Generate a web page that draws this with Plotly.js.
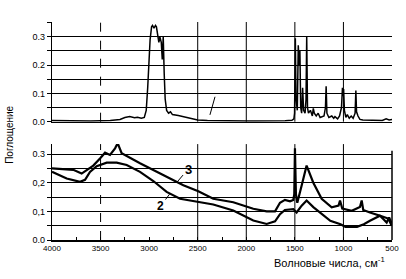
<!DOCTYPE html>
<html>
<head>
<meta charset="utf-8">
<script src="https://cdn.plot.ly/plotly-3.0.1.min.js"></script>
<style>html,body{margin:0;padding:0;background:#fff;}#chart{width:406px;height:279px;}</style>
</head>
<body>
<div id="chart"></div>
<script>
// ---- Data ----
// Top spectrum
var topWn = [4000,3900,3800,3700,3600,3500,3400,3300,3250,3200,3150,3120,3080,3050,3030,3015,3000,2990,2975,2965,2950,2935,2925,2910,2900,2890,2875,2865,2855,2845,2835,2820,2800,2780,2760,2700,2650,2600,2550,2500,2400,2300,2200,2100,2000,1900,1800,1700,1600,1530,1510,1503,1495,1488,1475,1465,1455,1448,1440,1430,1420,1410,1395,1385,1378,1370,1360,1340,1320,1310,1300,1280,1260,1240,1220,1200,1185,1178,1170,1150,1120,1100,1087,1060,1040,1020,1010,1005,998,990,975,960,940,920,900,880,872,865,850,830,800,750,700,650,600,560,530,500];
var topAbs = [0.004,0.003,0.002,0.002,0.002,0.003,0.004,0.008,0.015,0.018,0.014,0.016,0.012,0.015,0.04,0.12,0.22,0.29,0.335,0.34,0.33,0.34,0.335,0.3,0.28,0.3,0.28,0.22,0.3,0.17,0.08,0.04,0.03,0.035,0.025,0.022,0.018,0.014,0.01,0.006,0.004,0.003,0.003,0.002,0.002,0.002,0.002,0.003,0.003,0.005,0.01,0.03,0.295,0.08,0.04,0.27,0.2,0.25,0.05,0.03,0.12,0.04,0.03,0.08,0.3,0.05,0.03,0.04,0.02,0.047,0.03,0.02,0.03,0.015,0.018,0.02,0.05,0.125,0.03,0.015,0.02,0.012,0.018,0.01,0.02,0.05,0.12,0.09,0.115,0.04,0.015,0.025,0.012,0.02,0.012,0.03,0.11,0.035,0.02,0.008,0.006,0.005,0.004,0.003,0.004,0.01,0.006,0.008];

// Bottom spectrum, curve 3
var curve3Wn = [4000,3781,3695,3575,3506,3454,3403,3351,3324,3283,3094,2922,2751,2648,2494,2408,2340,2134,2013,1928,1790,1704,1653,1602,1550,1516,1506,1499,1489,1475,1430,1379,1310,1224,1121,1050,1035,1012,914,863,830,812,796,727,624,580,555,530,503];
var curve3Abs = [0.25,0.245,0.232,0.26,0.285,0.305,0.297,0.32,0.338,0.303,0.268,0.238,0.209,0.191,0.17,0.156,0.144,0.132,0.117,0.109,0.1,0.1,0.13,0.14,0.135,0.14,0.16,0.32,0.16,0.13,0.19,0.26,0.2,0.144,0.114,0.12,0.138,0.11,0.102,0.11,0.115,0.138,0.105,0.096,0.085,0.07,0.061,0.079,0.058];

// Bottom spectrum, curve 2
var curve2Wn = [4000,3849,3712,3660,3609,3540,3437,3334,3231,3094,2957,2820,2682,2494,2340,2134,2013,1928,1790,1704,1653,1602,1516,1482,1430,1379,1310,1236,1135,1030,979,860,790,727,624,538,503];
var curve2Abs = [0.238,0.215,0.203,0.21,0.238,0.258,0.27,0.27,0.262,0.238,0.206,0.168,0.144,0.132,0.124,0.103,0.082,0.068,0.056,0.065,0.09,0.105,0.108,0.096,0.12,0.138,0.115,0.096,0.067,0.055,0.046,0.046,0.055,0.067,0.085,0.075,0.05];

// Axis ticks
var xTickVals = [4000,3500,3000,2500,2000,1500,1000,500];
var xTickText = ["4000","3500","3000","2500","2000","1500","1000","500"];
var yTickVals = [0,0.1,0.2,0.3];
var yTickTextTop = ["0.0","0.1","0.2","0.3"];
var yTickTextBottom = ["0.0","0,1","0,2","0.3"];
var gridWn = [3500,2500,2000,1500,1000];
var gridDash = ["dash","solid","solid","solid","solid"];

// Labels
var yTitle = "Поглощение";
var xTitle = "Волновые числа, см<sup>-1</sup>";

var font = "Liberation Sans, Arial, sans-serif";

var traces = [
  {x: topWn, y: topAbs, xaxis: "x2", yaxis: "y2", mode: "lines", line: {color: "#000", width: 1.5}, hoverinfo: "skip"},
  {x: curve3Wn, y: curve3Abs, xaxis: "x", yaxis: "y", mode: "lines", line: {color: "#000", width: 2.2}, hoverinfo: "skip"},
  {x: curve2Wn, y: curve2Abs, xaxis: "x", yaxis: "y", mode: "lines", line: {color: "#000", width: 2.2}, hoverinfo: "skip"}
];

var shapes = [];
gridWn.forEach(function (w, i) {
  shapes.push({type: "line", xref: "x", yref: "y domain", x0: w, x1: w, y0: 0, y1: 1, line: {color: "#000", width: 1, dash: gridDash[i]}, layer: "below"});
  shapes.push({type: "line", xref: "x2", yref: "y2 domain", x0: w, x1: w, y0: 0, y1: 1, line: {color: "#000", width: 1, dash: gridDash[i]}, layer: "below"});
});
// right border of bottom panel
shapes.push({type: "line", xref: "x domain", yref: "y domain", x0: 1, x1: 1, y0: 0, y1: 0.93, line: {color: "#000", width: 1.5}});
// leader line in top panel
shapes.push({type: "line", xref: "x2", yref: "y2", x0: 2322, x1: 2374, y0: 0.088, y1: 0.024, line: {color: "#000", width: 1}});

var yAxisCommon = {
  tickmode: "array", tickvals: yTickVals,
  ticks: "outside", ticklen: 4, tickwidth: 1, tickcolor: "#000",
  showgrid: true, gridcolor: "#000", gridwidth: 1,
  minor: {dtick: 0.05, showgrid: true, gridcolor: "#000", gridwidth: 1, ticks: "outside", ticklen: 4, tickcolor: "#000"},
  showline: true, linecolor: "#000", linewidth: 1.2,
  zeroline: false, fixedrange: true,
  tickfont: {family: font, size: 9, color: "#000"}
};

var layout = {
  width: 406, height: 279,
  margin: {l: 52, r: 14, t: 22, b: 39, pad: 0},
  paper_bgcolor: "#fff", plot_bgcolor: "#fff",
  showlegend: false,
  font: {family: font, color: "#000"},
  xaxis: {
    domain: [0, 1], anchor: "y", range: [4000, 500],
    tickmode: "array", tickvals: xTickVals, ticktext: xTickText,
    ticks: "inside", ticklen: 3, tickcolor: "#000",
    minor: {dtick: 250, ticks: "inside", ticklen: 3, tickcolor: "#000", showgrid: false},
    showgrid: false, zeroline: false, showline: true, linecolor: "#000", linewidth: 1.8,
    tickfont: {family: font, size: 8, color: "#000"}
  },
  xaxis2: {
    domain: [0, 1], anchor: "y2", range: [4000, 500], matches: "x",
    showticklabels: false, ticks: "", showgrid: false, zeroline: false,
    showline: true, linecolor: "#000", linewidth: 1.8
  },
  yaxis: Object.assign({}, yAxisCommon, {domain: [0, 0.44], range: [0, 0.335], ticktext: yTickTextBottom}),
  yaxis2: Object.assign({}, yAxisCommon, {domain: [0.5427, 1], range: [0, 0.352], ticktext: yTickTextTop}),
  shapes: shapes,
  annotations: [
    {xref: "x", yref: "y", x: 2713, y: 0.202, text: "<b>3</b>", showarrow: true, arrowhead: 0, arrowwidth: 1, arrowcolor: "#000", ax: 11, ay: -13, font: {family: font, size: 13, color: "#000"}},
    {xref: "x", yref: "y", x: 2790, y: 0.16, text: "<b>2</b>", showarrow: true, arrowhead: 0, arrowwidth: 1, arrowcolor: "#000", ax: -9, ay: 12, font: {family: font, size: 12, color: "#000"}},
    {xref: "paper", yref: "paper", x: -0.125, y: 0.48, text: yTitle, textangle: -90, showarrow: false, xanchor: "center", yanchor: "middle", font: {family: font, size: 10, color: "#000"}},
    {xref: "paper", yref: "paper", x: 0.815, y: -0.1, text: xTitle, showarrow: false, xanchor: "center", yanchor: "middle", font: {family: font, size: 11, color: "#000"}}
  ]
};

Plotly.newPlot("chart", traces, layout, {staticPlot: true, displayModeBar: false});
</script>
</body>
</html>
